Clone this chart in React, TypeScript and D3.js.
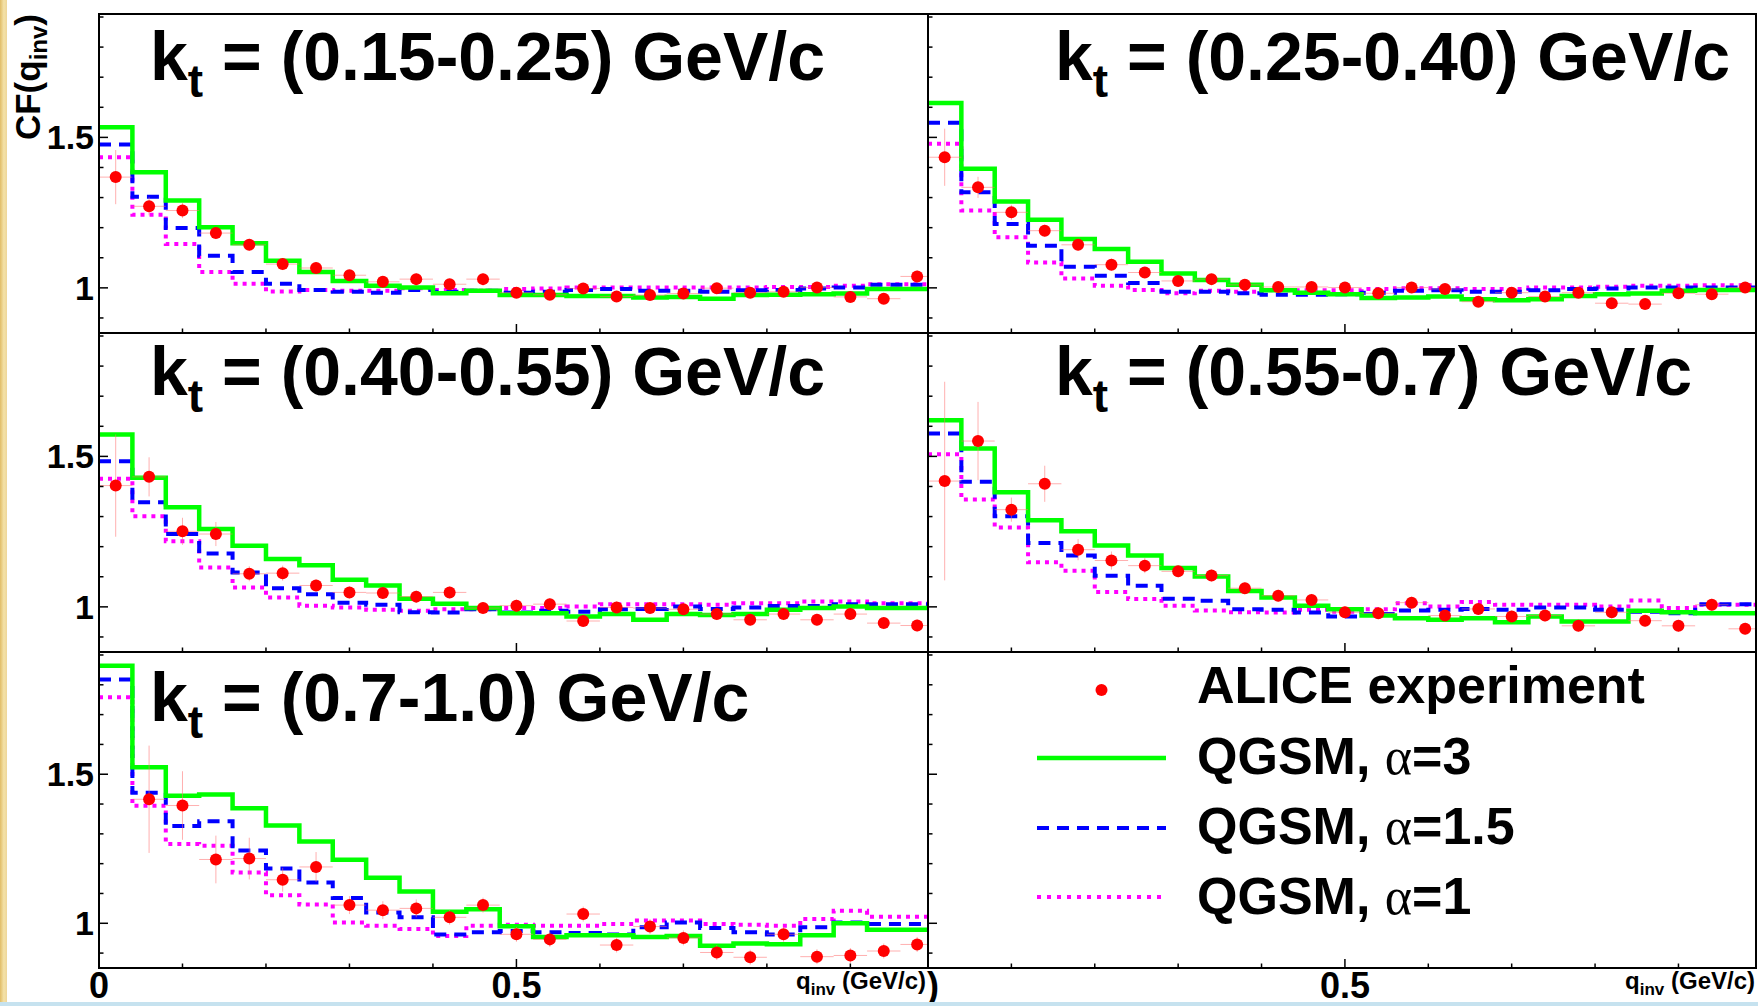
import React from 'react';
import * as d3 from 'd3';

// ---------- data ----------
const binEdges = [0, 0.04, 0.08, 0.12, 0.16, 0.2, 0.24, 0.28, 0.32, 0.36, 0.4, 0.44, 0.48, 0.52, 0.56, 0.6, 0.64, 0.68, 0.72, 0.76, 0.8, 0.84, 0.88, 0.92, 0.96];
const qCenters = [0.02, 0.06, 0.1, 0.14, 0.18, 0.22, 0.26, 0.3, 0.34, 0.38, 0.42, 0.46, 0.5, 0.54, 0.58, 0.62, 0.66, 0.7, 0.74, 0.78, 0.82, 0.86, 0.9, 0.94, 0.98];
const kTRanges = ['(0.15-0.25)', '(0.25-0.40)', '(0.40-0.55)', '(0.55-0.7)', '(0.7-1.0)'];

const alice1 = [1.368, 1.271, 1.257, 1.182, 1.143, 1.079, 1.066, 1.042, 1.02, 1.029, 1.012, 1.029, 0.984, 0.977, 0.998, 0.971, 0.976, 0.981, 0.999, 0.984, 0.987, 1.001, 0.97, 0.964, 1.038];
const aliceErr1 = [0.09, 0.03, 0.025, 0.02, 0.02, 0.02, 0.02, 0.015, 0.015, 0.02, 0.015, 0.02, 0.015, 0.015, 0.015, 0.015, 0.015, 0.015, 0.015, 0.015, 0.015, 0.015, 0.015, 0.015, 0.02];
const qgsm3_1 = [1.534, 1.384, 1.29, 1.201, 1.148, 1.09, 1.053, 1.023, 1.007, 1.001, 0.982, 0.99, 0.976, 0.976, 0.973, 0.973, 0.968, 0.97, 0.964, 0.976, 0.977, 0.979, 0.981, 0.996, 0.996];
const qgsm15_1 = [1.476, 1.303, 1.199, 1.107, 1.053, 1.014, 0.993, 0.987, 0.984, 0.993, 0.987, 0.99, 0.984, 0.987, 0.993, 0.996, 0.99, 0.99, 0.987, 0.992, 0.993, 0.998, 1.001, 1.01, 1.01];
const qgsm1_1 = [1.434, 1.243, 1.146, 1.053, 1.014, 0.988, 0.993, 0.99, 0.99, 0.999, 0.993, 0.99, 0.996, 0.998, 1.001, 1.001, 1.001, 1.001, 1.001, 1.001, 1.003, 1.003, 1.007, 1.012, 1.012];

const alice2 = [1.434, 1.334, 1.251, 1.19, 1.143, 1.077, 1.051, 1.023, 1.029, 1.01, 1.003, 1.003, 1.001, 0.982, 1.001, 0.996, 0.954, 0.984, 0.971, 0.984, 0.949, 0.946, 0.982, 0.979, 1.001];
const aliceErr2 = [0.095, 0.035, 0.025, 0.02, 0.02, 0.02, 0.015, 0.015, 0.015, 0.015, 0.015, 0.015, 0.015, 0.015, 0.015, 0.015, 0.015, 0.015, 0.015, 0.015, 0.015, 0.015, 0.015, 0.015, 0.015];
const qgsm3_2 = [1.614, 1.396, 1.287, 1.226, 1.162, 1.129, 1.087, 1.048, 1.026, 1.01, 0.992, 0.984, 0.979, 0.966, 0.968, 0.971, 0.962, 0.959, 0.962, 0.973, 0.979, 0.981, 0.99, 0.993, 0.993];
const qgsm15_2 = [1.549, 1.318, 1.212, 1.14, 1.07, 1.04, 1.016, 0.987, 0.987, 0.982, 0.977, 0.977, 0.979, 0.984, 0.99, 0.992, 0.987, 0.987, 0.992, 0.996, 0.998, 1.001, 1.001, 1.001, 1.001];
const qgsm1_2 = [1.479, 1.257, 1.168, 1.084, 1.031, 1.007, 0.993, 0.982, 0.99, 0.987, 0.992, 0.992, 0.992, 0.996, 0.999, 0.999, 0.996, 0.996, 1.001, 1.001, 1.004, 1.007, 1.007, 1.009, 1.009];

const alice3 = [1.403, 1.432, 1.251, 1.242, 1.11, 1.112, 1.071, 1.048, 1.046, 1.034, 1.048, 0.996, 1.004, 1.009, 0.953, 0.998, 0.996, 0.992, 0.976, 0.957, 0.976, 0.957, 0.976, 0.946, 0.938];
const aliceErr3 = [0.17, 0.065, 0.045, 0.04, 0.025, 0.025, 0.02, 0.02, 0.02, 0.02, 0.02, 0.02, 0.02, 0.02, 0.02, 0.02, 0.02, 0.02, 0.02, 0.02, 0.02, 0.02, 0.02, 0.02, 0.02];
const qgsm3_3 = [1.573, 1.429, 1.331, 1.259, 1.203, 1.159, 1.138, 1.09, 1.071, 1.027, 1.01, 0.996, 0.979, 0.979, 0.968, 0.976, 0.957, 0.976, 0.973, 0.976, 0.99, 0.996, 1.001, 0.996, 0.996];
const qgsm15_3 = [1.484, 1.348, 1.242, 1.177, 1.114, 1.062, 1.042, 1.014, 1.007, 0.982, 0.981, 0.992, 0.981, 0.987, 0.984, 0.992, 0.993, 1.001, 0.993, 0.998, 1.003, 1.003, 1.009, 1.009, 1.009];
const qgsm1_3 = [1.426, 1.301, 1.218, 1.131, 1.064, 1.031, 1.004, 0.998, 0.99, 0.987, 0.992, 0.992, 0.996, 0.996, 1.001, 1.009, 1.009, 1.009, 1.007, 1.012, 1.012, 1.018, 1.018, 1.012, 1.012];

const alice4 = [1.418, 1.551, 1.323, 1.409, 1.19, 1.154, 1.137, 1.118, 1.104, 1.062, 1.037, 1.023, 0.982, 0.979, 1.014, 0.971, 0.993, 0.968, 0.971, 0.937, 0.982, 0.954, 0.937, 1.007, 0.927];
const aliceErr4 = [0.33, 0.13, 0.04, 0.06, 0.035, 0.03, 0.025, 0.02, 0.02, 0.02, 0.02, 0.02, 0.02, 0.02, 0.02, 0.02, 0.02, 0.02, 0.02, 0.02, 0.02, 0.02, 0.02, 0.02, 0.02];
const qgsm3_4 = [1.62, 1.526, 1.381, 1.288, 1.251, 1.204, 1.171, 1.129, 1.101, 1.053, 1.031, 1.004, 0.992, 0.971, 0.962, 0.957, 0.962, 0.949, 0.968, 0.951, 0.951, 0.987, 0.982, 0.979, 0.979];
const qgsm15_4 = [1.576, 1.416, 1.301, 1.212, 1.171, 1.103, 1.07, 1.027, 1.02, 0.992, 0.99, 0.981, 0.968, 0.976, 0.988, 0.99, 0.993, 0.99, 0.998, 0.998, 0.99, 0.984, 0.979, 1.009, 1.009];
const qgsm1_4 = [1.507, 1.357, 1.264, 1.148, 1.12, 1.049, 1.026, 1.004, 0.988, 0.982, 0.981, 0.99, 0.984, 0.992, 1.012, 1.001, 1.016, 1.007, 1.007, 1.007, 1.001, 1.021, 0.996, 1.007, 1.007];

const alice5 = [NaN, 1.416, 1.395, 1.214, 1.217, 1.146, 1.189, 1.061, 1.044, 1.05, 1.02, 1.061, 0.963, 0.946, 1.031, 0.927, 0.989, 0.951, 0.902, 0.886, 0.963, 0.888, 0.892, 0.907, 0.929];
const aliceErr5 = [0, 0.18, 0.115, 0.08, 0.07, 0.04, 0.05, 0.03, 0.03, 0.03, 0.025, 0.025, 0.025, 0.025, 0.025, 0.025, 0.025, 0.025, 0.025, 0.025, 0.025, 0.025, 0.025, 0.025, 0.025];
const qgsm3_5 = [1.864, 1.523, 1.428, 1.432, 1.386, 1.328, 1.274, 1.213, 1.153, 1.107, 1.039, 1.047, 0.99, 0.954, 0.96, 0.96, 0.954, 0.957, 0.925, 0.932, 0.93, 0.96, 1.0, 0.978, 0.978];
const qgsm15_5 = [1.818, 1.438, 1.326, 1.342, 1.244, 1.184, 1.137, 1.085, 1.036, 1.02, 0.962, 0.97, 0.974, 0.97, 0.967, 0.962, 0.987, 1.003, 0.984, 0.97, 0.962, 0.987, 1.003, 0.998, 0.998];
const qgsm1_5 = [1.758, 1.394, 1.266, 1.26, 1.17, 1.094, 1.063, 1.003, 0.992, 0.981, 0.957, 0.992, 0.995, 0.992, 0.992, 0.998, 1.009, 1.009, 0.998, 0.995, 0.992, 1.014, 1.042, 1.022, 1.022];

const yMinorTicks = [0.9, 1.0, 1.1, 1.2, 1.3, 1.4, 1.5, 1.6, 1.7, 1.8, 1.9];
const yMajorTicks = [1.0, 1.5];
const yTickLabels = ['1', '1.5'];
const xMinorTicks = [0.1, 0.2, 0.3, 0.4, 0.5, 0.6, 0.7, 0.8, 0.9];
const xMajorTicks = [0.5];
const xTickLabelVals = [0, 0.5];
const xTickLabels = ['0', '0.5'];
const legendLabels = ['ALICE experiment', 'QGSM, ', 'QGSM, ', 'QGSM, '];
const legendAlpha = ['', '=3', '=1.5', '=1'];

// ---------- layout ----------
const W = 1758;
const H = 1006;
const X_DOMAIN: [number, number] = [0, 0.993];
const Y_DOMAIN: [number, number] = [0.85, 1.91];
const colX = [99, 928];
const colW = [829, 828];
const rowY = [14, 333, 652];
const rowH = [319, 319, 316];
const titleDy = [66, 62, 69];
const titleDx = [51, 127];
const FONT = "'Liberation Sans', Arial, Helvetica, sans-serif";
const GREEN = '#00ff00';
const BLUE = '#0000ff';
const MAGENTA = '#ff00ff';
const RED = '#ff0000';

type PanelData = { alice: number[]; err: number[]; h3: number[]; h15: number[]; h1: number[] } | null;

const panelData: PanelData[] = [
  { alice: alice1, err: aliceErr1, h3: qgsm3_1, h15: qgsm15_1, h1: qgsm1_1 },
  { alice: alice2, err: aliceErr2, h3: qgsm3_2, h15: qgsm15_2, h1: qgsm1_2 },
  { alice: alice3, err: aliceErr3, h3: qgsm3_3, h15: qgsm15_3, h1: qgsm1_3 },
  { alice: alice4, err: aliceErr4, h3: qgsm3_4, h15: qgsm15_4, h1: qgsm1_4 },
  { alice: alice5, err: aliceErr5, h3: qgsm3_5, h15: qgsm15_5, h1: qgsm1_5 },
  null,
];

function Panel({ idx }: { idx: number }) {
  const col = idx % 2;
  const row = Math.floor(idx / 2);
  const x0 = colX[col];
  const y0 = rowY[row];
  const w = colW[col];
  const h = rowH[row];
  const xs = d3.scaleLinear().domain(X_DOMAIN).range([x0, x0 + w]);
  const ys = d3.scaleLinear().domain(Y_DOMAIN).range([y0 + h, y0]);
  const data = panelData[idx];
  const clipId = `clip${idx}`;

  const step = (vals: number[]) => {
    const pts: [number, number][] = binEdges.map((e, i) => [e, vals[i]]);
    pts.push([X_DOMAIN[1], vals[vals.length - 1]]);
    return d3
      .line<[number, number]>()
      .x((d) => xs(d[0]))
      .y((d) => ys(d[1]))
      .curve(d3.curveStepAfter)(pts) as string;
  };

  return (
    <g>
      <defs>
        <clipPath id={clipId}>
          <rect x={x0} y={y0} width={w} height={h} />
        </clipPath>
      </defs>
      {data && (
        <g clipPath={`url(#${clipId})`}>
          <path d={step(data.h1)} fill="none" stroke={MAGENTA} strokeWidth={4} strokeDasharray="4 5" />
          <path d={step(data.h15)} fill="none" stroke={BLUE} strokeWidth={4} strokeDasharray="12 8" />
          <path d={step(data.h3)} fill="none" stroke={GREEN} strokeWidth={4.5} />
          {data.alice.map((v, i) =>
            Number.isFinite(v) ? (
              <g key={i}>
                <line x1={xs(qCenters[i] - 0.02)} x2={xs(qCenters[i] + 0.02)} y1={ys(v)} y2={ys(v)} stroke="#ff7070" strokeOpacity={0.55} strokeWidth={1} />
                <line x1={xs(qCenters[i])} x2={xs(qCenters[i])} y1={ys(v - data.err[i])} y2={ys(v + data.err[i])} stroke="#ff7070" strokeOpacity={0.55} strokeWidth={1} />
                <circle cx={xs(qCenters[i])} cy={ys(v)} r={6} fill={RED} />
              </g>
            ) : null
          )}
        </g>
      )}
      {yMinorTicks.map((t) => (
        <line key={'ym' + t} x1={x0} x2={x0 + (yMajorTicks.some((m) => Math.abs(m - t) < 1e-6) ? 9 : 4.5)} y1={ys(t)} y2={ys(t)} stroke="#000" strokeWidth={1.5} />
      ))}
      {xMinorTicks.map((t) => (
        <line key={'xm' + t} x1={xs(t)} x2={xs(t)} y1={y0 + h} y2={y0 + h - (xMajorTicks.some((m) => Math.abs(m - t) < 1e-6) ? 9 : 4.5)} stroke="#000" strokeWidth={1.5} />
      ))}
      <rect x={x0} y={y0} width={w} height={h} fill="none" stroke="#000" strokeWidth={2} />
      {col === 0 &&
        yMajorTicks.map((t, i) => (
          <text key={'yl' + t} x={x0 - 5} y={ys(t) + 12} textAnchor="end" fontFamily={FONT} fontWeight="bold" fontSize={34} fill="#000">
            {yTickLabels[i]}
          </text>
        ))}
      {idx < 5 && (
        <text x={x0 + titleDx[col]} y={y0 + titleDy[row]} fontFamily={FONT} fontWeight="bold" fontSize={68} fill="#000">
          k
          <tspan fontSize={46} dy={17}>t</tspan>
          <tspan dy={-17}>{' = ' + kTRanges[idx] + ' GeV/c'}</tspan>
        </text>
      )}
    </g>
  );
}

function Legend() {
  const lx0 = 1037;
  const lx1 = 1166;
  const tx = 1197;
  const rows = [703, 774, 844, 914];
  const symY = [690, 758, 828, 897];
  return (
    <g>
      <circle cx={(lx0 + lx1) / 2} cy={symY[0]} r={6} fill={RED} />
      <line x1={lx0} x2={lx1} y1={symY[1]} y2={symY[1]} stroke={GREEN} strokeWidth={4.5} />
      <line x1={lx0} x2={lx1} y1={symY[2]} y2={symY[2]} stroke={BLUE} strokeWidth={4} strokeDasharray="12 8" />
      <line x1={lx0} x2={lx1} y1={symY[3]} y2={symY[3]} stroke={MAGENTA} strokeWidth={4} strokeDasharray="4 6" />
      {legendLabels.map((lab, i) => (
        <text key={i} x={tx} y={rows[i]} fontFamily={FONT} fontWeight="bold" fontSize={52} fill="#000">
          {lab}
          {i > 0 && (
            <tspan fontFamily="'Liberation Serif', 'DejaVu Serif', serif" fontWeight="normal">α</tspan>
          )}
          {i > 0 && <tspan>{legendAlpha[i]}</tspan>}
        </text>
      ))}
    </g>
  );
}

export default function App() {
  const xsL = d3.scaleLinear().domain(X_DOMAIN).range([colX[0], colX[0] + colW[0]]);
  const xsR = d3.scaleLinear().domain(X_DOMAIN).range([colX[1], colX[1] + colW[1]]);
  return (
    <svg width={W} height={H} style={{ position: 'absolute', left: 0, top: 0, background: '#fff' }}>
      <defs>
        <linearGradient id="gold" x1="0" x2="1" y1="0" y2="0">
          <stop offset="0" stopColor="#e0bc66" />
          <stop offset="0.55" stopColor="#f4e2a8" />
          <stop offset="1" stopColor="#eed699" />
        </linearGradient>
      </defs>
      <rect x={0} y={0} width={W} height={H} fill="#fff" />
      <rect x={0} y={0} width={7} height={H} fill="url(#gold)" />
      {[0, 1, 2, 3, 4, 5].map((i) => (
        <Panel key={i} idx={i} />
      ))}
      <Legend />
      <text transform="translate(40,14) rotate(-90)" textAnchor="end" fontFamily={FONT} fontWeight="bold" fontSize={35} fill="#000">
        CF(q<tspan fontSize={24} dy={7}>inv</tspan>
        <tspan dy={-7}>)</tspan>
      </text>
      {xTickLabelVals.map((v, i) => (
        <text key={'xl' + i} x={xsL(v)} y={998} textAnchor="middle" fontFamily={FONT} fontWeight="bold" fontSize={36} fill="#000">
          {xTickLabels[i]}
        </text>
      ))}
      {xTickLabelVals.slice(1).map((v, i) => (
        <text key={'xr' + i} x={xsR(v)} y={998} textAnchor="middle" fontFamily={FONT} fontWeight="bold" fontSize={36} fill="#000">
          {xTickLabels[i + 1]}
        </text>
      ))}
      <text x={926} y={989} textAnchor="end" fontFamily={FONT} fontWeight="bold" fontSize={24} fill="#000">
        q<tspan fontSize={17} dy={6}>inv</tspan>
        <tspan dy={-6}>{' (GeV/c)'}</tspan>
      </text>
      <text x={927} y={998} fontFamily={FONT} fontWeight="bold" fontSize={36} fill="#000">)</text>
      <text x={1755} y={989} textAnchor="end" fontFamily={FONT} fontWeight="bold" fontSize={24} fill="#000">
        q<tspan fontSize={17} dy={6}>inv</tspan>
        <tspan dy={-6}>{' (GeV/c)'}</tspan>
      </text>
      <rect x={0} y={1002} width={W} height={4} fill="#c6e2ef" />
    </svg>
  );
}
